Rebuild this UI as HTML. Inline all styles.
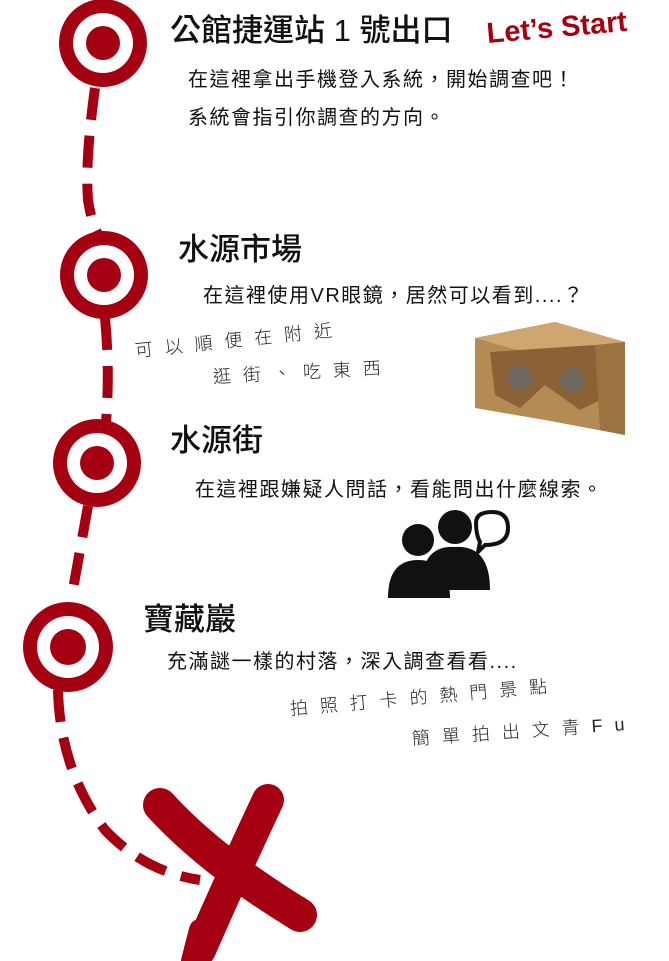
<!DOCTYPE html>
<html><head><meta charset="utf-8"><style>
body{margin:0;width:669px;height:961px;background:#fff;position:relative;overflow:hidden;font-family:"Liberation Sans","Noto Sans CJK TC",sans-serif;color:#111}
.t{position:absolute;white-space:nowrap;line-height:1}
.h{font-size:31px;font-weight:500}
.b{font-size:20px;letter-spacing:1.5px}
.w{font-size:18px;letter-spacing:12px;font-weight:300;color:#222;transform-origin:left center}
</style></head><body>
<svg width="669" height="961" style="position:absolute;left:0;top:0">
<g stroke="#a50012" stroke-width="10" fill="none" stroke-dasharray="32 16">
<path d="M95 88 Q85 160 88 200 Q92 225 98 234"/>
<path d="M105 318 Q110 370 106 422"/>
<path d="M88 506 Q80 550 72 595"/>
<path d="M58 690 Q60 770 105 830 Q145 872 200 880"/>
</g>
<g fill="#a50012">
<circle cx="103" cy="43" r="44"/><circle cx="103" cy="43" r="30" fill="#fff"/><circle cx="103" cy="43" r="17"/>
<circle cx="104" cy="275" r="44"/><circle cx="104" cy="275" r="30" fill="#fff"/><circle cx="104" cy="275" r="17"/>
<circle cx="97" cy="463" r="44"/><circle cx="97" cy="463" r="30" fill="#fff"/><circle cx="97" cy="463" r="17"/>
<circle cx="68" cy="647" r="45"/><circle cx="68" cy="647" r="31" fill="#fff"/><circle cx="68" cy="647" r="18"/>
</g>
<g stroke="#a50012" stroke-linecap="round" fill="none">
<path d="M160 805 Q210 860 300 915" stroke-width="34"/>
<path d="M268 800 Q235 870 200 950" stroke-width="32"/>
<path d="M200 930 L192 961" stroke-width="22"/>
</g>
<g>
<polygon points="475,338 555,322 625,342 625,435 545,420 475,408" fill="#b48a55"/>
<polygon points="475,338 555,322 625,342 545,358" fill="#cfa66f"/>
<polygon points="490,352 595,345 610,395 580,410 545,385 520,408 495,395" fill="#8a6236"/>
<circle cx="520" cy="378" r="12" fill="#6d6860"/><circle cx="572" cy="380" r="12" fill="#6d6860"/>
<polygon points="595,345 625,342 625,435 600,430" fill="#9b7340"/>
</g>
<g fill="#111">
<circle cx="418" cy="540" r="16"/><path d="M388 598 Q388 560 418 560 Q450 560 450 598Z"/>
<circle cx="455" cy="527" r="17"/><path d="M422 590 Q420 545 455 547 Q490 545 490 590Z"/>
<path d="M476 523 Q476 512 492 512 Q508 512 508 528 Q508 545 485 545 L478 552 L480 542 Q476 535 476 523Z" fill="none" stroke="#111" stroke-width="4"/>
</g>
</svg>
<div class="t h" style="left:170px;top:15px">公館捷運站 1 號出口</div>
<div class="t" style="left:488px;top:20px;font-size:29px;font-weight:bold;color:#a50012;transform:rotate(-5deg);transform-origin:left bottom">Let’s Start</div>
<div class="t b" style="left:188px;top:70px">在這裡拿出手機登入系統，開始調查吧！</div>
<div class="t b" style="left:188px;top:108px">系統會指引你調查的方向。</div>
<div class="t h" style="left:178px;top:234px">水源市場</div>
<div class="t b" style="left:203px;top:286px">在這裡使用VR眼鏡，居然可以看到....？</div>
<div class="t w" style="left:135px;top:342px;transform:rotate(-6deg)">可以順便在附近</div>
<div class="t w" style="left:213px;top:368px;transform:rotate(-3deg)">逛街、吃東西</div>
<div class="t h" style="left:170px;top:425px">水源街</div>
<div class="t b" style="left:195px;top:480px">在這裡跟嫌疑人問話，看能問出什麼線索。</div>
<div class="t h" style="left:143px;top:604px">寶藏巖</div>
<div class="t b" style="left:167px;top:652px">充滿謎一樣的村落，深入調查看看....</div>
<div class="t w" style="left:290px;top:700px;transform:rotate(-5deg)">拍照打卡的熱門景點</div>
<div class="t w" style="left:412px;top:730px;transform:rotate(-4deg)">簡單拍出文青Fu</div>
</body></html>
